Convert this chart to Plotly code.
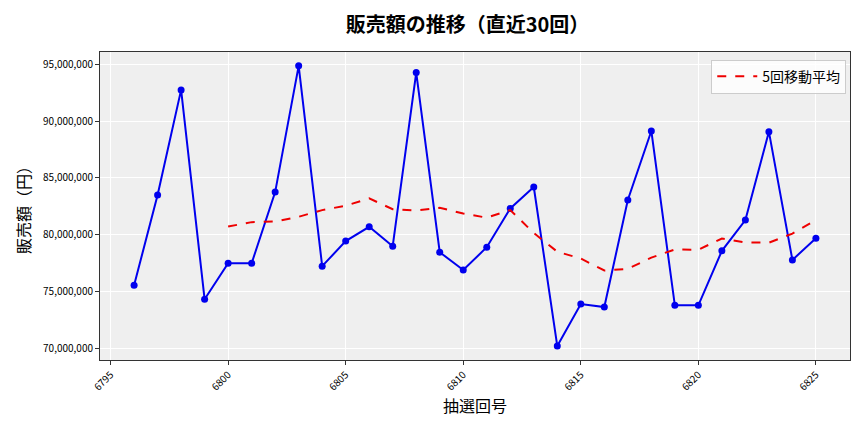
import plotly.graph_objects as go
import pandas as pd

draws = list(range(6796, 6826))
sales = [75540000, 83490000, 92760000, 74300000, 77480000, 77480000, 83750000, 94880000,
         77220000, 79430000, 80690000, 78980000, 94290000, 78450000, 76880000, 78890000,
         82310000, 84200000, 70180000, 73890000, 73620000, 83050000, 89140000, 73770000,
         73770000, 78570000, 81280000, 89080000, 77770000, 79690000]
ma5 = pd.Series(sales).rolling(5).mean().tolist()

title = "販売額の推移（直近30回）"
xlab = "抽選回号"
ylab = "販売額（円）"
ma_name = "5回移動平均"
ytickvals = [70000000, 75000000, 80000000, 85000000, 90000000, 95000000]
xtickvals = [6795, 6800, 6805, 6810, 6815, 6820, 6825]

font = "Noto Sans CJK JP"

fig = go.Figure()
fig.add_trace(go.Scatter(x=draws, y=sales, mode="lines+markers",
                         line=dict(color="#0000ee", width=2),
                         marker=dict(color="#0000ee", size=7),
                         showlegend=False, name="販売額"))
fig.add_trace(go.Scatter(x=draws, y=ma5, mode="lines",
                         line=dict(color="#ee0000", width=2, dash="dash"),
                         name=ma_name))

fig.update_layout(
    width=856, height=424,
    margin=dict(l=92, r=14, t=44, b=72, autoexpand=False),
    paper_bgcolor="white", plot_bgcolor="#efefef",
    font=dict(family=font, color="black"),
    title=dict(text="<b>" + title + "</b>", xref="paper", x=0.49, xanchor="center",
               y=0.96, yanchor="middle",
               font=dict(size=20, family=font, color="black")),
    legend=dict(x=0.995, y=0.975, xanchor="right", yanchor="top",
                bgcolor="rgba(255,255,255,0.8)", bordercolor="#cccccc", borderwidth=1,
                font=dict(size=14, family=font), itemwidth=40),
    showlegend=True,
)
fig.update_xaxes(range=[6794.55, 6826.45], tickvals=xtickvals, tickangle=-45,
                 tickfont=dict(size=10), showgrid=True, gridcolor="white", gridwidth=1,
                 zeroline=False, showline=True, linecolor="#333333", linewidth=1, mirror=True,
                 ticks="outside", ticklen=4, tickcolor="#333333", automargin=False,
                 title=dict(text=xlab, font=dict(size=16), standoff=7))
fig.update_yaxes(range=[68950000, 96100000], tickvals=ytickvals, tickformat=",d",
                 tickfont=dict(size=10), showgrid=True, gridcolor="white", gridwidth=1,
                 zeroline=False, showline=True, linecolor="#333333", linewidth=1, mirror=True,
                 ticks="outside", ticklen=4, tickcolor="#333333", automargin=False,
                 title=dict(text=ylab, font=dict(size=16), standoff=8))

fig.write_html("out.html")
